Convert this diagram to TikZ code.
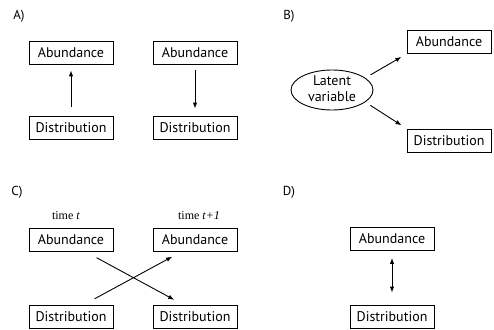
\documentclass[tikz,border=0pt]{standalone}
\usepackage{fontspec}
\setmainfont{PT Sans}
\newfontfamily\timefont{Liberation Serif}
\usetikzlibrary{arrows.meta,shapes.geometric}
\tikzset{
  box/.style={draw, line width=0.9pt, minimum width=84pt, minimum height=23pt, inner sep=0pt, font=\fontsize{14}{16}\selectfont},
  arr/.style={-{Latex[length=6pt,width=4.5pt]}, line width=0.9pt},
  panel/.style={font=\fontsize{13}{15}\selectfont},
  timelbl/.style={font=\timefont\fontsize{12}{14}\selectfont}
}
\begin{document}
\begin{tikzpicture}[x=1pt,y=-1pt]
            \useasboundingbox (0,0) rectangle (494,329);
            % A)
            \node[panel] (lblA) at (19,16) {A)};
            \node[box] (abA1) at (71,52.5) {Abundance};
            \node[box] (disA1) at (71,127.5) {Distribution};
            \node[box] (abA2) at (195,52.5) {Abundance};
            \node[box] (disA2) at (195,127.5) {Distribution};
            \draw[arr, shorten <=9pt, shorten >=6pt] (disA1) -- (abA1);
            \draw[arr, shorten <=6pt, shorten >=7pt] (abA2) -- (disA2);
            % B)
            \node[panel] (lblB) at (289,16) {B)};
            \node[draw, ellipse, line width=0.9pt, inner sep=0pt, minimum width=82pt, minimum height=40pt, font=\fontsize{14}{16}\selectfont] (lat) at (332,90)
                {\raisebox{-3.5pt}[0pt][0pt]{\begin{tabular}{@{}c@{}}Latent\\variable\end{tabular}}};
            \node[box] (abB) at (449,42) {Abundance};
            \node[box] (disB) at (449,140.5) {Distribution};
            \draw[arr, shorten <=6pt, shorten >=6pt] (lat.20) -- (abB.south west);
            \draw[arr, shorten <=6pt, shorten >=6pt] (lat.-20) -- (disB.north west);
            % C)
            \node[panel] (lblC) at (17,192) {C)};
            \node[timelbl] (tC1) at (66,216) {time \textit{t}};
            \node[timelbl] (tC2) at (199,216) {time \textit{t+1}};
            \node[box] (abC1) at (71,240) {Abundance};
            \node[box] (abC2) at (195,240) {Abundance};
            \node[box] (disC1) at (71,316.5) {Distribution};
            \node[box] (disC2) at (195,316.5) {Distribution};
            \draw[arr, shorten <=12pt, shorten >=10pt] ([xshift=15pt]abC1.south) -- ([xshift=-12pt]disC2.north);
            \draw[arr, shorten <=12pt, shorten >=10pt] ([xshift=13pt]disC1.north) -- ([xshift=-14pt]abC2.south);
            % D)
            \node[panel] (lblD) at (289,192) {D)};
            \node[box] (abD) at (392,239) {Abundance};
            \node[box] (disD) at (392,316.5) {Distribution};
            \draw[{Latex[length=6pt,width=4.5pt]}-{Latex[length=6pt,width=4.5pt]}, line width=0.9pt, shorten <=7pt, shorten >=12pt] (abD) -- (disD);
        \end{tikzpicture}
\end{document}
